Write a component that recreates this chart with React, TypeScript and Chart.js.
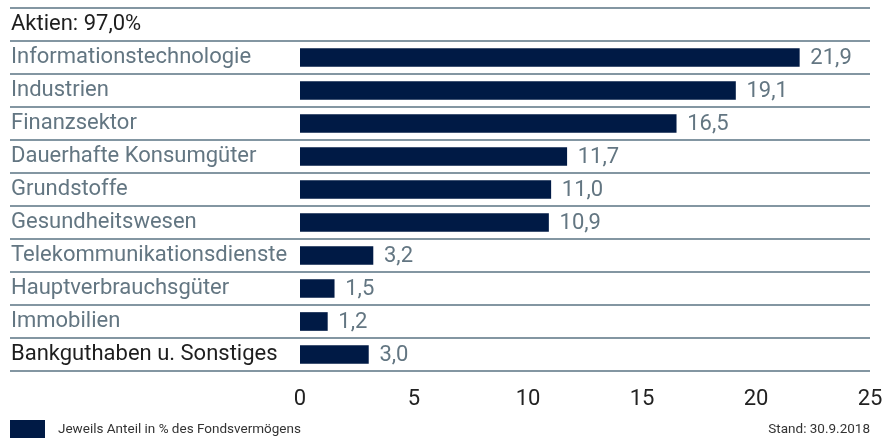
import React, { useEffect, useRef } from "react";
import { Chart, registerables } from "chart.js";

Chart.register(...registerables);

const categories = [
  "Aktien: 97,0%",
  "Informationstechnologie",
  "Industrien",
  "Finanzsektor",
  "Dauerhafte Konsumgüter",
  "Grundstoffe",
  "Gesundheitswesen",
  "Telekommunikationsdienste",
  "Hauptverbrauchsgüter",
  "Immobilien",
  "Bankguthaben u. Sonstiges",
];
const values: (number | null)[] = [null, 21.9, 19.1, 16.5, 11.7, 11.0, 10.9, 3.2, 1.5, 1.2, 3.0];
const xTicks = [0, 5, 10, 15, 20, 25];
const legendText = "Jeweils Anteil in % des Fondsvermögens";
const standText = "Stand: 30.9.2018";

const NAVY = "#001a45";
const GRAY_TEXT = "#63768272";
const GRAY = "#637682";
const DARK_TEXT = "#1e1e1e";
const LINE = "#8396a2";
const FONT = "Roboto";

const rowLines = {
  id: "rowLines",
  beforeDatasetsDraw(chart: any) {
    const { ctx, chartArea, scales } = chart;
    const y = scales.y;
    const n = categories.length;
    const half = (y.getPixelForValue(1) - y.getPixelForValue(0)) / 2;
    ctx.save();
    ctx.strokeStyle = LINE;
    ctx.lineWidth = 2;
    for (let i = 0; i <= n; i++) {
      const py = i < n ? y.getPixelForValue(i) - half : y.getPixelForValue(n - 1) + half;
      ctx.beginPath();
      ctx.moveTo(10, py);
      ctx.lineTo(chartArea.right, py);
      ctx.stroke();
    }
    ctx.restore();
  },
};

const valueLabels = {
  id: "valueLabels",
  afterDatasetsDraw(chart: any) {
    const { ctx } = chart;
    const meta = chart.getDatasetMeta(0);
    ctx.save();
    ctx.font = `22px ${FONT}`;
    ctx.fillStyle = GRAY;
    ctx.textAlign = "left";
    ctx.textBaseline = "middle";
    meta.data.forEach((bar: any, i: number) => {
      const v = values[i];
      if (v === null || v === undefined) return;
      ctx.fillText(v.toFixed(1).replace(".", ","), bar.x + 11, bar.y + 1);
    });
    ctx.restore();
  },
};

export default function App() {
  const ref = useRef<HTMLCanvasElement | null>(null);
  useEffect(() => {
    if (!ref.current) return;
    const chart = new Chart(ref.current, {
      type: "bar",
      data: {
        labels: categories,
        datasets: [
          {
            data: values,
            backgroundColor: NAVY,
            barThickness: 18,
            borderWidth: 0,
          },
        ],
      },
      options: {
        indexAxis: "y",
        animation: false,
        responsive: true,
        maintainAspectRatio: false,
        layout: { padding: { left: 11, right: 16, top: 8, bottom: 0 } },
        plugins: { legend: { display: false }, tooltip: { enabled: false } },
        scales: {
          x: {
            min: 0,
            max: 25,
            grid: { display: false },
            border: { display: false },
            afterBuildTicks: (scale: any) => {
              scale.ticks = xTicks.map((v) => ({ value: v }));
            },
            afterFit: (scale: any) => {
              scale.height = 68;
              scale.paddingLeft = 0;
              scale.paddingRight = 0;
            },
            ticks: {
              font: { family: FONT, size: 22 },
              color: "#222222",
              padding: 7,
              maxRotation: 0,
            },
          },
          y: {
            grid: { display: false },
            border: { display: false },
            afterFit: (scale: any) => {
              scale.width = 289;
              scale.paddingTop = 0;
              scale.paddingBottom = 0;
            },
            ticks: {
              crossAlign: "far",
              font: { family: FONT, size: 22 },
              color: (c: any) =>
                c.index === 0 || c.index === categories.length - 1 ? DARK_TEXT : GRAY,
              autoSkip: false,
            },
          },
        },
      },
      plugins: [rowLines, valueLabels],
    } as any);
    return () => chart.destroy();
  }, []);

  return (
    <div style={{ position: "fixed", left: 0, top: 0, width: 886, height: 439, background: "#fff" }}>
      <canvas ref={ref} />
      <div
        style={{
          position: "absolute",
          left: 10,
          top: 420,
          width: 35,
          height: 18,
          background: NAVY,
        }}
      />
      <div
        style={{
          position: "absolute",
          left: 58,
          top: 418,
          font: `13.5px ${FONT}`,
          color: "#333333",
          lineHeight: "20px",
        }}
      >
        {legendText}
      </div>
      <div
        style={{
          position: "absolute",
          right: 16,
          top: 418,
          font: `13.5px ${FONT}`,
          color: "#333333",
          lineHeight: "20px",
        }}
      >
        {standText}
      </div>
    </div>
  );
}
